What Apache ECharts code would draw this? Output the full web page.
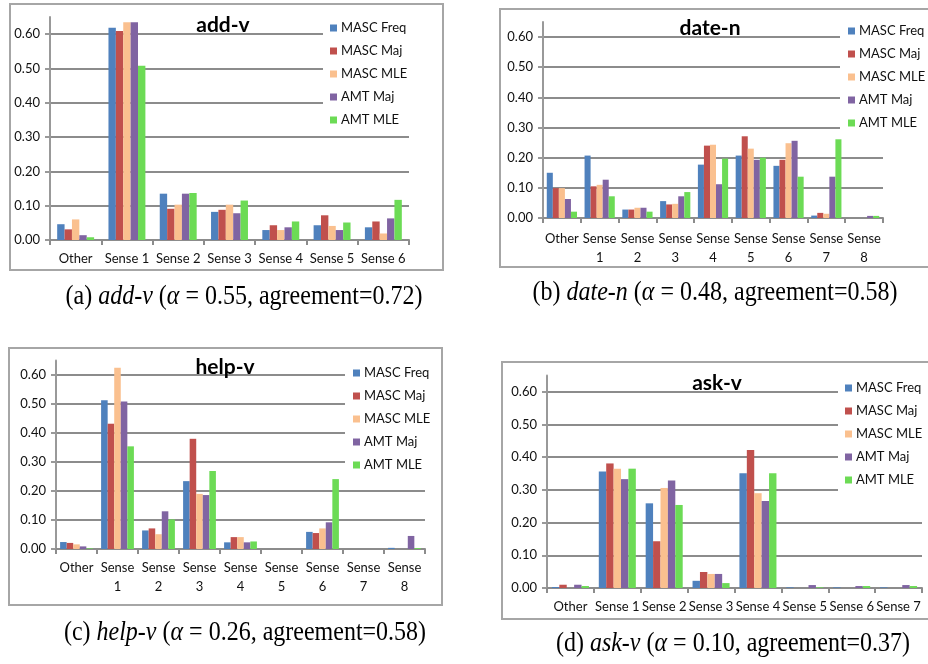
<!DOCTYPE html>
<html>
<head>
<meta charset="utf-8">
<script src="https://cdn.jsdelivr.net/npm/echarts@6/dist/echarts.min.js"></script>
<style>
html,body{margin:0;padding:0;background:#fff;}
#c{width:928px;height:664px;}
</style>
</head>
<body>
<div id="c"></div>
<script>
// ---------- data ----------
const seriesNames = ['MASC Freq', 'MASC Maj', 'MASC MLE', 'AMT Maj', 'AMT MLE'];
const seriesColors = ['#4F81BD', '#C0504D', '#FAC08F', '#8064A2', '#6CDB55'];
const yTicks = [0, 0.1, 0.2, 0.3, 0.4, 0.5, 0.6];

// (a) add-v
const catsAdd = ['Other', 'Sense 1', 'Sense 2', 'Sense 3', 'Sense 4', 'Sense 5', 'Sense 6'];
const addFreq   = [0.046, 0.619, 0.135, 0.082, 0.029, 0.043, 0.037];
const addMascMaj = [0.031, 0.609, 0.091, 0.088, 0.043, 0.072, 0.054];
const addMascMle = [0.060, 0.635, 0.103, 0.103, 0.029, 0.041, 0.019];
const addAmtMaj  = [0.014, 0.635, 0.135, 0.078, 0.037, 0.029, 0.063];
const addAmtMle  = [0.008, 0.508, 0.137, 0.115, 0.054, 0.051, 0.117];

// (b) date-n
const catsDate = ['Other', 'Sense 1', 'Sense 2', 'Sense 3', 'Sense 4', 'Sense 5', 'Sense 6', 'Sense 7', 'Sense 8'];
const dateFreq    = [0.150, 0.207, 0.028, 0.056, 0.177, 0.207, 0.173, 0.008, 0.000];
const dateMascMaj = [0.099, 0.105, 0.028, 0.045, 0.240, 0.271, 0.193, 0.017, 0.000];
const dateMascMle = [0.099, 0.110, 0.034, 0.047, 0.243, 0.230, 0.248, 0.014, 0.000];
const dateAmtMaj  = [0.063, 0.127, 0.034, 0.072, 0.112, 0.193, 0.256, 0.137, 0.007];
const dateAmtMle  = [0.021, 0.072, 0.021, 0.086, 0.197, 0.200, 0.137, 0.261, 0.007];

// (c) help-v
const catsHelp = ['Other', 'Sense 1', 'Sense 2', 'Sense 3', 'Sense 4', 'Sense 5', 'Sense 6', 'Sense 7', 'Sense 8'];
const helpFreq    = [0.024, 0.513, 0.064, 0.234, 0.023, 0, 0.059, 0, 0.004];
const helpMascMaj = [0.021, 0.432, 0.071, 0.380, 0.041, 0, 0.055, 0, 0];
const helpMascMle = [0.016, 0.625, 0.051, 0.190, 0.041, 0, 0.071, 0, 0];
const helpAmtMaj  = [0.009, 0.509, 0.130, 0.186, 0.023, 0, 0.092, 0, 0.045];
const helpAmtMle  = [0.002, 0.354, 0.102, 0.269, 0.026, 0, 0.241, 0, 0.003];

// (d) ask-v
const catsAsk = ['Other', 'Sense 1', 'Sense 2', 'Sense 3', 'Sense 4', 'Sense 5', 'Sense 6', 'Sense 7'];
const askFreq    = [0.003, 0.356, 0.259, 0.022, 0.351, 0.002, 0.002, 0.002];
const askMascMaj = [0.010, 0.381, 0.143, 0.049, 0.422, 0, 0, 0];
const askMascMle = [0, 0.365, 0.306, 0.043, 0.290, 0, 0, 0];
const askAmtMaj  = [0.010, 0.333, 0.329, 0.043, 0.266, 0.009, 0.006, 0.009];
const askAmtMle  = [0.006, 0.365, 0.254, 0.015, 0.351, 0.002, 0.006, 0.006];

// ---------- layout ----------
const FONT = 'Lato, "Open Sans", sans-serif';
const SERIF = '"Liberation Serif", "DejaVu Serif", serif';
const panels = [
  { name: 'add-v', cats: catsAdd, data: [addFreq, addMascMaj, addMascMle, addAmtMaj, addAmtMle],
    grid: {left: 50, top: 17, width: 359, height: 223}, gap: '28%', wrap: false, margin: 11,
    legend: {left: 323, top: 19, padding: [2, 4, 6, 7]},
    title: [223, 25], border: [10, 4, 433, 266],
    caption: {x: 244, y: 297, parts: ['(a) ', 'add-v', '0.55', '0.72']} },
  { name: 'date-n', cats: catsDate, data: [dateFreq, dateMascMaj, dateMascMle, dateAmtMaj, dateAmtMle],
    grid: {left: 543, top: 22, width: 340, height: 196}, gap: '20%', wrap: true, margin: 11,
    legend: {left: 840, top: 22, padding: [2, 4, 8, 8]},
    title: [710, 28], border: [500, 9, 450, 258],
    caption: {x: 715, y: 293, parts: ['(b) ', 'date-n', '0.48', '0.58']} },
  { name: 'help-v', cats: catsHelp, data: [helpFreq, helpMascMaj, helpMascMle, helpAmtMaj, helpAmtMle],
    grid: {left: 56, top: 360.5, width: 369, height: 188.5}, gap: '20%', wrap: true, margin: 9,
    legend: {left: 345, top: 364, padding: [2, 4, 6, 8]},
    title: [225, 367], border: [9, 348, 433, 257],
    caption: {x: 245, y: 633, parts: ['(c) ', 'help-v', '0.26', '0.58']} },
  { name: 'ask-v', cats: catsAsk, data: [askFreq, askMascMaj, askMascMle, askAmtMaj, askAmtMle],
    grid: {left: 547, top: 375.5, width: 375, height: 212.5}, gap: '21%', wrap: false, margin: 11,
    legend: {left: 838, top: 379, padding: [2, 4, 8, 7]},
    title: [717, 383], border: [502, 362, 450, 257],
    caption: {x: 733, y: 644, parts: ['(d) ', 'ask-v', '0.10', '0.37']} }
];

const option = {
  animation: false,
  backgroundColor: '#fff',
  grid: [], xAxis: [], yAxis: [], series: [], legend: [], graphic: []
};

panels.forEach((p, k) => {
  option.grid.push(Object.assign({containLabel: false}, p.grid));
  option.xAxis.push({
    type: 'category', gridIndex: k, data: p.cats,
    axisLine: {lineStyle: {color: '#8c8c8c', width: 2}},
    axisTick: {show: true, length: 5, lineStyle: {color: '#8c8c8c', width: 2}},
    axisLabel: {
      interval: 0, margin: p.margin, color: '#111', fontFamily: FONT, fontSize: 13,
      lineHeight: p.wrap ? 19 : 15,
      formatter: v => p.wrap ? v.replace(' ', '\n') : v
    },
    splitLine: {show: false}
  });
  option.yAxis.push({
    type: 'value', gridIndex: k, min: 0, max: 0.65, interval: 0.1,
    axisLine: {show: true, lineStyle: {color: '#999', width: 2}},
    axisTick: {show: true, length: 5, customValues: yTicks, lineStyle: {color: '#999', width: 2}},
    axisLabel: {customValues: yTicks, margin: 10, color: '#111', fontFamily: FONT, fontSize: 13,
      formatter: v => v.toFixed(2)},
    splitLine: {show: true, lineStyle: {color: '#8c8c8c', width: 2}}
  });
  seriesNames.forEach((n, i) => {
    option.series.push({
      type: 'bar', name: n, xAxisIndex: k, yAxisIndex: k,
      data: p.data[i], barGap: '0%', barCategoryGap: p.gap,
      itemStyle: {color: seriesColors[i]}
    });
  });
  option.legend.push({
    orient: 'vertical', left: p.legend.left, top: p.legend.top, padding: p.legend.padding,
    backgroundColor: '#fff', data: seriesNames, icon: 'rect',
    itemWidth: 7, itemHeight: 7, itemGap: 9,
    textStyle: {fontFamily: FONT, fontSize: 13, color: '#111', lineHeight: 14, padding: [0, 0, 0, -1]},
    selectedMode: false, z: 10
  });
  option.graphic.push({
    type: 'rect', shape: {x: p.border[0], y: p.border[1], width: p.border[2], height: p.border[3]},
    style: {fill: 'none', stroke: '#a6a6a6', lineWidth: 2}, z: -1, silent: true
  });
  option.graphic.push({
    type: 'text', x: p.title[0], y: p.title[1], z: 20,
    style: {text: p.name, fill: '#000', font: 'bold 21px ' + FONT, align: 'center', verticalAlign: 'middle'}
  });
  const c = p.caption.parts;
  option.graphic.push({
    type: 'text', x: p.caption.x, y: p.caption.y, z: 20, scaleY: 1.12,
    style: {
      text: '{n|' + c[0] + '}{i|' + c[1] + '}{n| (}{i|α}{n| = ' + c[2] + ', agreement=' + c[3] + ')}',
      align: 'center', verticalAlign: 'middle', fill: '#000',
      rich: {
        n: {fontFamily: SERIF, fontSize: 24, fill: '#000'},
        i: {fontFamily: SERIF, fontSize: 24, fontStyle: 'italic', fill: '#000'}
      }
    }
  });
});

const chart = echarts.init(document.getElementById('c'), null, {renderer: 'canvas'});
chart.setOption(option);
</script>
</body>
</html>
